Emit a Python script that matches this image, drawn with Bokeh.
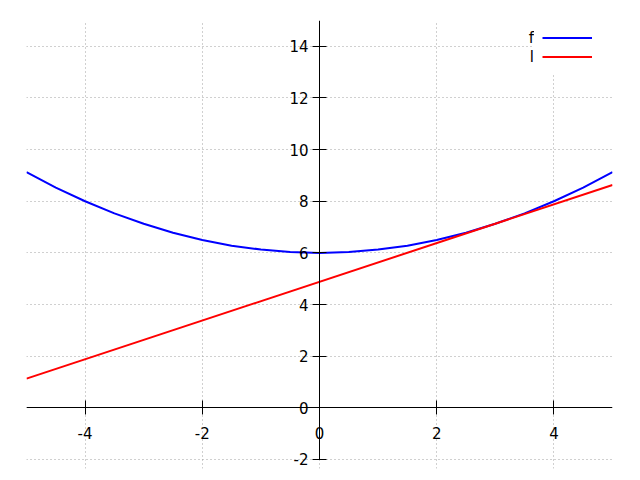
from bokeh.plotting import figure
from bokeh.models import (Legend, LegendItem, Label, Range1d, FixedTicker,
                          CustomJSTickFormatter)
from bokeh.embed import file_html
from bokeh.resources import INLINE

# data
xs = [-5.0, -4.5, -4.0, -3.5, -3.0, -2.5, -2.0, -1.5, -1.0, -0.5, 0.0,
      0.5, 1.0, 1.5, 2.0, 2.5, 3.0, 3.5, 4.0, 4.5, 5.0]
f_vals = [9.13, 8.53, 8.00, 7.53, 7.13, 6.78, 6.50, 6.28, 6.13, 6.03, 6.00,
          6.03, 6.13, 6.28, 6.50, 6.78, 7.13, 7.53, 8.00, 8.53, 9.13]
l_x = [-5.0, 5.0]
l_vals = [1.13, 8.63]
x_ticks = [-4, -2, 0, 2, 4]
y_ticks = [-2, 0, 2, 4, 6, 8, 10, 12, 14]
series_names = ["f", "l"]
series_colors = ["#0000ff", "#ff0000"]

FONT = "DejaVu Sans"
FSIZE = "15px"
Y_MIN, Y_MAX = y_ticks[0], 15

# frame extends a little below the -2 tick so that its label is not clipped
p = figure(width=640, height=480, output_backend="svg", toolbar_location=None,
           x_range=Range1d(-5, 5), y_range=Range1d(Y_MIN - 0.35, Y_MAX),
           min_border_left=26, min_border_right=28, min_border_top=20, min_border_bottom=12)
p.outline_line_color = None
p.background_fill_color = "white"

for ax, ticks in ((p.xaxis[0], x_ticks), (p.yaxis[0], y_ticks)):
    ax.fixed_location = 0
    ax.ticker = FixedTicker(ticks=ticks)
    ax.formatter = CustomJSTickFormatter(code="return String(tick);")
    ax.minor_tick_line_color = None
    ax.major_tick_in = 7
    ax.major_tick_out = 7
    ax.axis_line_color = "black"
    ax.major_tick_line_color = "black"
    ax.major_label_text_font = FONT
    ax.major_label_text_font_size = FSIZE
    ax.major_label_text_color = "black"
p.yaxis.bounds = (Y_MIN, Y_MAX)
p.xaxis.major_label_standoff = 12
p.yaxis.major_label_standoff = 4

for g in (p.xgrid[0], p.ygrid[0]):
    g.grid_line_color = "#a0a0a0"
    g.grid_line_dash = "1 3"
    g.grid_line_width = 1
p.xgrid.ticker = FixedTicker(ticks=x_ticks)
p.ygrid.ticker = FixedTicker(ticks=y_ticks)

r_f = p.line(xs, f_vals, line_color=series_colors[0], line_width=2)
r_l = p.line(l_x, l_vals, line_color=series_colors[1], line_width=2)

legend = Legend(items=[LegendItem(label=" ", renderers=[r_f]),
                       LegendItem(label=" ", renderers=[r_l])],
                location="top_right", margin=0, padding=8, spacing=0,
                glyph_width=50, glyph_height=19, label_height=19,
                label_width=12, label_standoff=0, label_text_font_size="1px",
                background_fill_color="white", background_fill_alpha=1.0,
                border_line_alpha=0)
p.add_layout(legend, "center")

for name, yv in zip(series_names, [14.31, 13.57]):
    p.add_layout(Label(x=3.66, y=yv, text=name, text_align="right", text_baseline="middle",
                       text_font=FONT, text_font_size=FSIZE, text_color="black"))

open("out.html", "w").write(file_html(p, INLINE))
